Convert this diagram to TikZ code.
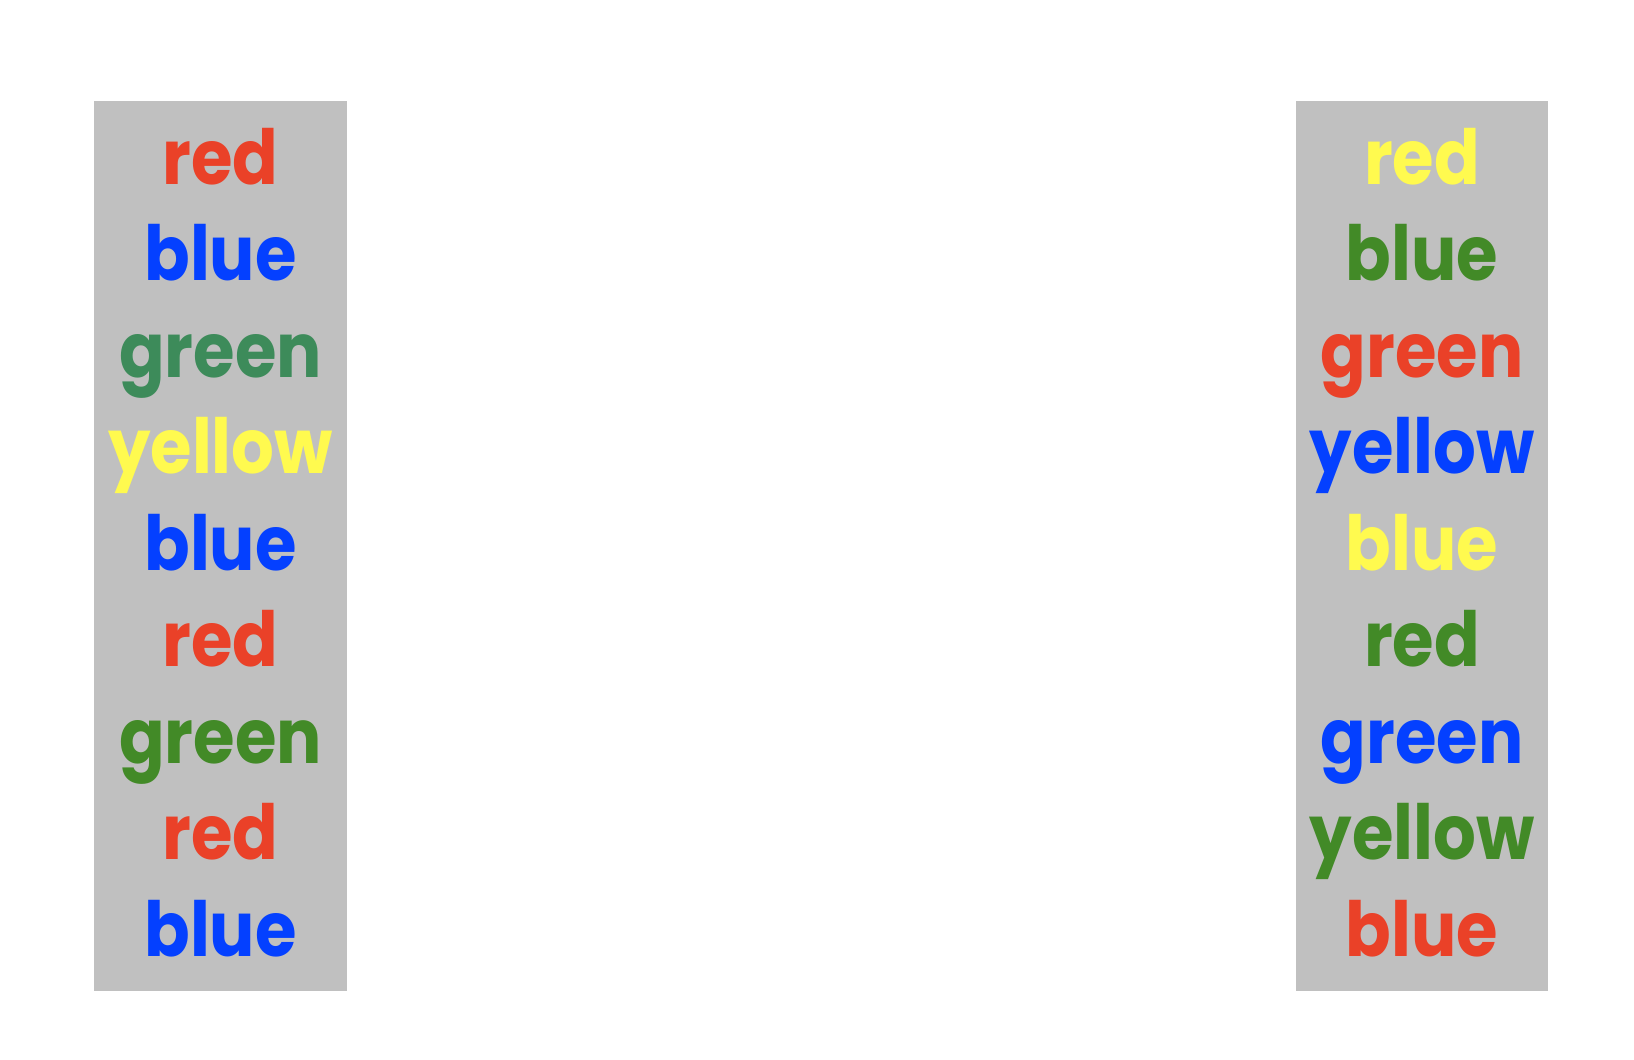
\documentclass[tikz,border=0pt]{standalone}
\usepackage{fontspec}
\setmainfont{Poppins}
\definecolor{sred}{HTML}{EA4128}
\definecolor{sblue}{HTML}{0440FF}
\definecolor{sgreen}{HTML}{428A27}
\definecolor{steal}{HTML}{3D8B5A}
\definecolor{syellow}{HTML}{FFFA4F}
\definecolor{panel}{HTML}{C0C0C0}
\newcommand{\squeezeword}[1]{\scalebox{0.885}[1]{#1}}
\begin{document}
\begin{tikzpicture}[x=1pt,y=-1pt,
  word/.style={anchor=base,inner sep=0pt,font=\bfseries\fontsize{76pt}{76pt}\selectfont}]
  \useasboundingbox (0,0) rectangle (1634,1060);
  % two grey panels
  \fill[panel] (94,101) rectangle (347,991);
  \fill[panel] (1296,101) rectangle (1548,991);
  % left column: word and ink agree
  \foreach \w/\c [count=\i] in {red/sred,blue/sblue,green/steal,yellow/syellow,blue/sblue,red/sred,green/sgreen,red/sred,blue/sblue}
    \node[word,text=\c] (L\i) at (220.5,{184+96.5*(\i-1)}) {\squeezeword{\w}};
  % right column: word and ink differ
  \foreach \w/\c [count=\i] in {red/syellow,blue/sgreen,green/sred,yellow/sblue,blue/syellow,red/sgreen,green/sblue,yellow/sgreen,blue/sred}
    \node[word,text=\c] (R\i) at (1422,{184+96.5*(\i-1)}) {\squeezeword{\w}};
\end{tikzpicture}
\end{document}
